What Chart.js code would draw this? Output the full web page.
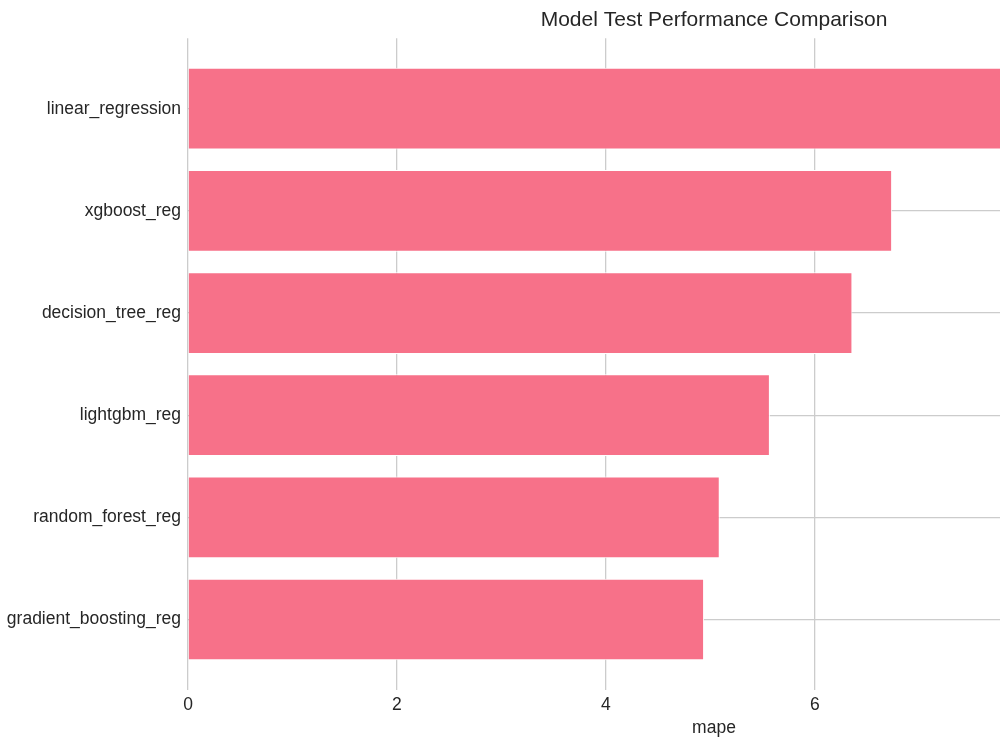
<!DOCTYPE html>
<html lang="en">
<head>
    <meta charset="UTF-8">
    <title>Model Test Performance Comparison</title>
    <script src="https://cdn.jsdelivr.net/npm/chart.js"></script>
    <style>
        html, body { margin: 0; padding: 0; background: #fff; overflow: hidden; }
        /* the original figure is wider than the window and gets cut at 1000px */
        #wrap { width: 1000px; height: 750px; overflow: hidden; }
    </style>
</head>
<body>
<div id="wrap">
    <canvas id="perfChart" width="1240" height="750"></canvas>
</div>

<script>
    // model names, top to bottom
    const models = ['linear_regression', 'xgboost_reg', 'decision_tree_reg', 'lightgbm_reg', 'random_forest_reg', 'gradient_boosting_reg'];
    // test mape per model
    const mape = [9.59, 6.74, 6.36, 5.57, 5.09, 4.94];
    const xTicks = [0, 2, 4, 6, 8];

    const textColor = '#262626';
    const gridColor = '#cccccc';
    const fontFamily = 'Arial, "Liberation Sans", sans-serif';

    const ctx = document.getElementById('perfChart').getContext('2d');
    new Chart(ctx, {
        type: 'bar',
        data: {
            datasets: [{
                label: 'mape',
                data: models.map((m, i) => ({ x: mape[i], y: i })),
                backgroundColor: '#f77189',
                borderColor: '#ffffff',
                borderWidth: 1,
                barPercentage: 0.8,
                categoryPercentage: 1.0
            }]
        },
        options: {
            indexAxis: 'y',
            responsive: false,
            animation: false,
            layout: { padding: 0 },
            plugins: {
                legend: { display: false },
                tooltip: { enabled: false },
                title: {
                    display: true,
                    text: 'Model Test Performance Comparison',
                    fullSize: false,
                    color: textColor,
                    font: { family: fontFamily, size: 21, weight: 'normal' },
                    padding: { top: 8, bottom: 5 }
                }
            },
            scales: {
                x: {
                    type: 'linear',
                    position: 'bottom',
                    min: 0,
                    max: 10.07,
                    border: { display: false },
                    grid: { color: gridColor, lineWidth: 1.3, drawTicks: false },
                    afterBuildTicks: s => { s.ticks = xTicks.map(v => ({ value: v })); },
                    afterFit: s => { s.height = 60; },
                    ticks: {
                        color: textColor,
                        padding: 5,
                        font: { family: fontFamily, size: 17.5 }
                    },
                    title: {
                        display: true,
                        text: 'mape',
                        color: textColor,
                        font: { family: fontFamily, size: 17.5 },
                        padding: { top: 0, bottom: 11 }
                    }
                },
                y: {
                    type: 'linear',
                    reverse: true,
                    offset: false,
                    bounds: 'data',
                    min: -0.69,
                    max: 5.69,
                    border: { display: false },
                    grid: { color: gridColor, lineWidth: 1.3, drawTicks: false, offset: false },
                    afterBuildTicks: s => { s.ticks = models.map((m, i) => ({ value: i })); },
                    afterFit: s => { s.width = 188; },
                    ticks: {
                        color: textColor,
                        padding: 7,
                        font: { family: fontFamily, size: 17.5 },
                        callback: v => models[v]
                    }
                }
            }
        }
    });
</script>
</body>
</html>
